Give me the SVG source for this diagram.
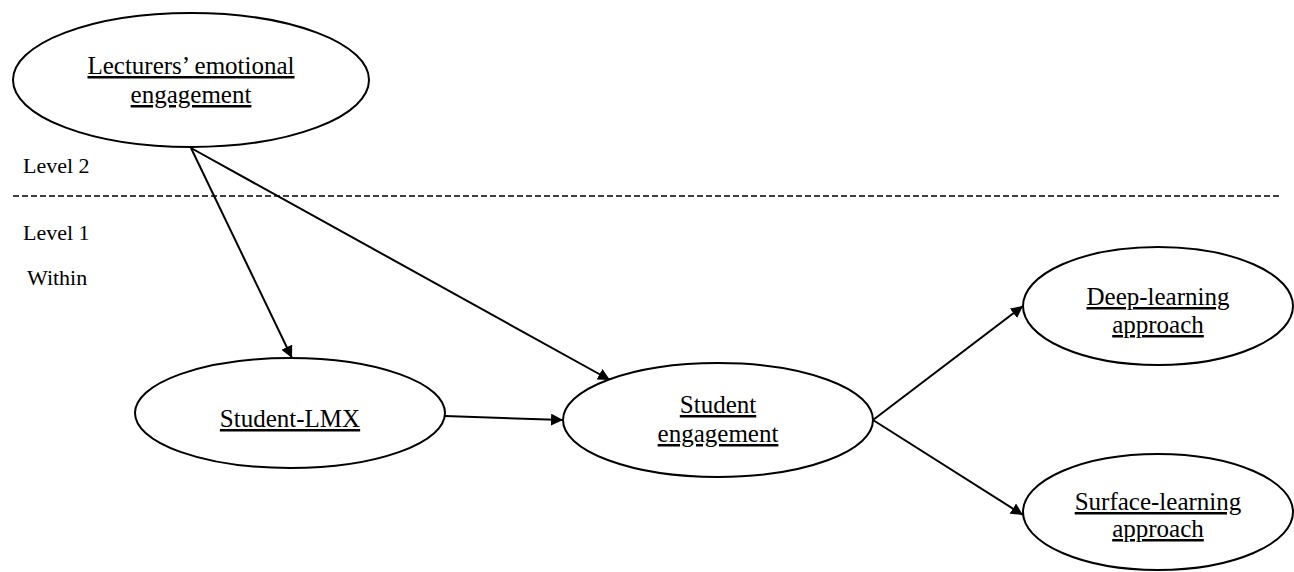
<svg xmlns="http://www.w3.org/2000/svg" width="1294" height="572" viewBox="0 0 1294 572">
<style>
.node ellipse{fill:#fff;stroke:#000;stroke-width:2}
.node text{font-family:"Liberation Serif","Times New Roman",serif;font-size:25px;text-anchor:middle;text-decoration:underline;fill:#000}
.lbl{font-family:"Liberation Serif","Times New Roman",serif;font-size:22px;fill:#000}
.conn line{stroke:#000;stroke-width:2;marker-end:url(#ah)}
</style>
<defs>
<marker id="ah" viewBox="0 0 10 10" refX="10" refY="5" markerWidth="6" markerHeight="6" orient="auto" markerUnits="strokeWidth">
<path d="M0,0 L10,5 L0,10 z" fill="#000"/>
</marker>
</defs>
<rect width="1294" height="572" fill="#fff"/>
<line x1="13" y1="196" x2="1280" y2="196" stroke="#000" stroke-width="1.5" stroke-dasharray="6,3"/>
<text class="lbl" x="23" y="173">Level 2</text>
<text class="lbl" x="23" y="240">Level 1</text>
<text class="lbl" x="27" y="285">Within</text>
<g class="conn">
<line x1="191" y1="148" x2="292" y2="358"/>
<line x1="191" y1="148" x2="610" y2="380"/>
<line x1="445" y1="416" x2="563" y2="420"/>
<line x1="873" y1="420" x2="1023" y2="306"/>
<line x1="873" y1="420" x2="1023" y2="515"/>
</g>
<g id="lecturers" class="node">
<ellipse cx="191" cy="80" rx="178" ry="67"/>
<text x="191" y="74">Lecturers’ emotional</text>
<text x="191" y="103">engagement</text>
</g>
<g id="lmx" class="node">
<ellipse cx="290" cy="413" rx="155" ry="55"/>
<text x="290" y="427">Student-LMX</text>
</g>
<g id="engagement" class="node">
<ellipse cx="718" cy="420" rx="155" ry="57"/>
<text x="718" y="413">Student</text>
<text x="718" y="442">engagement</text>
</g>
<g id="deep" class="node">
<ellipse cx="1158" cy="306" rx="135" ry="59"/>
<text x="1158" y="305">Deep-learning</text>
<text x="1158" y="333">approach</text>
</g>
<g id="surface" class="node">
<ellipse cx="1158" cy="512" rx="135" ry="58"/>
<text x="1158" y="510">Surface-learning</text>
<text x="1158" y="537">approach</text>
</g>
</svg>
